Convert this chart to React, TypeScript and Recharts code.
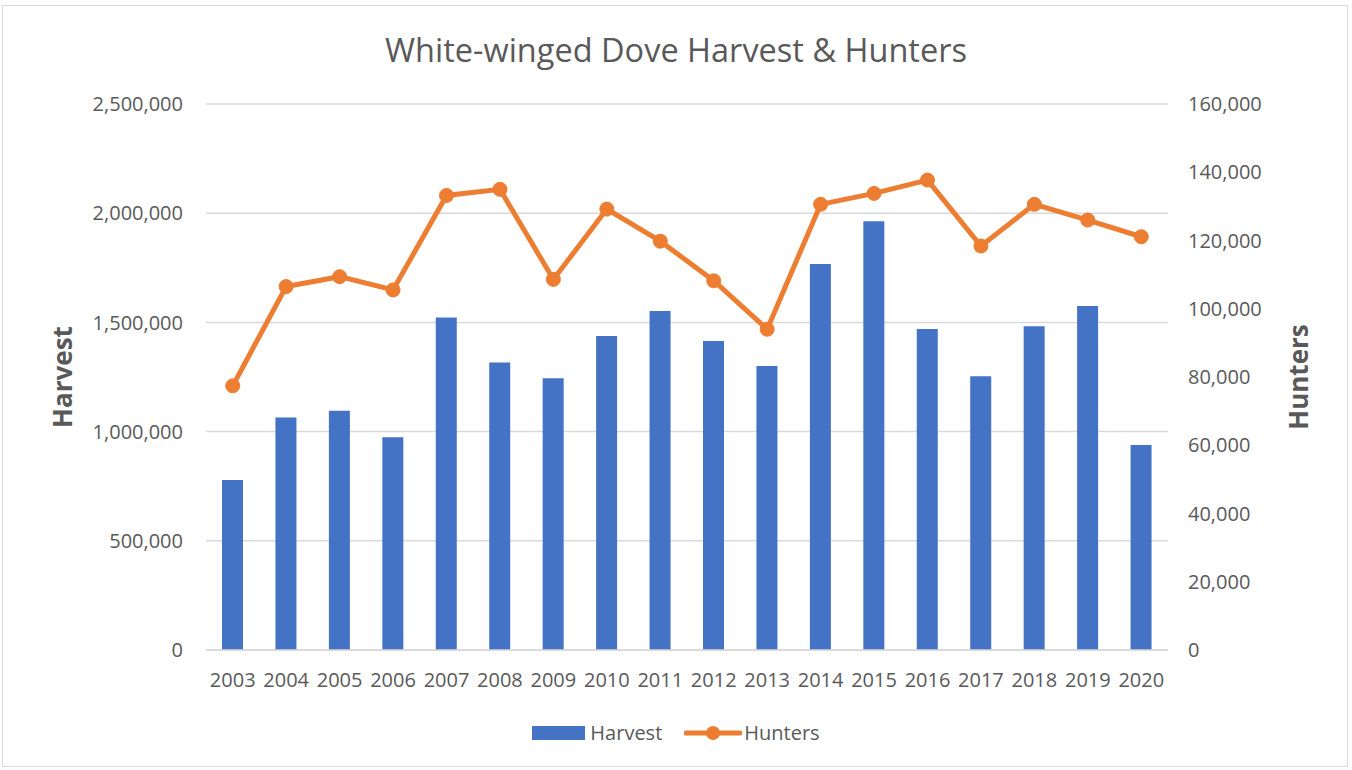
import React from 'react';
import { ComposedChart, Bar, Line, XAxis, YAxis, CartesianGrid, Legend } from 'recharts';

const years = ['2003','2004','2005','2006','2007','2008','2009','2010','2011','2012','2013','2014','2015','2016','2017','2018','2019','2020'];
const harvest = [778000,1065000,1096000,974000,1522000,1316000,1244000,1438000,1552000,1415000,1300000,1767000,1963000,1470000,1253000,1482000,1575000,939000];
const hunters = [77400,106500,109400,105500,133200,135000,108600,129200,119800,108200,94000,130600,133800,137700,118400,130600,126000,121100];
const leftTicks = [0,500000,1000000,1500000,2000000,2500000];
const rightTicks = [0,20000,40000,60000,80000,100000,120000,140000,160000];

const data = years.map((y, i) => ({ year: y, Harvest: harvest[i], Hunters: hunters[i] }));

const FONT = '"Open Sans", sans-serif';
const TXT = '#595959';
const fmt = (v: number) => v.toLocaleString('en-US');

const LegendContent = () => (
  <div style={{ display: 'flex', justifyContent: 'center', alignItems: 'center', fontFamily: FONT, fontSize: 20, color: TXT }}>
    <svg width={53} height={14} style={{ marginRight: 5 }}><rect x={0} y={0} width={53} height={14} fill="#4472C4" /></svg>
    <span style={{ marginRight: 22 }}>Harvest</span>
    <svg width={58} height={16} style={{ marginRight: 2 }}>
      <line x1={2} y1={8} x2={56} y2={8} stroke="#ED7D31" strokeWidth={5} strokeLinecap="round" />
      <circle cx={29} cy={8} r={7} fill="#ED7D31" />
    </svg>
    <span>Hunters</span>
  </div>
);

export default function App() {
  return (
    <div style={{ position: 'absolute', left: 0, top: 0, width: 1352, height: 770, background: '#fff', fontFamily: FONT }}>
      <div style={{ position: 'absolute', left: 2, top: 5, width: 1346, height: 762, border: '1px solid #d9d9d9', boxSizing: 'border-box' }} />
      <div style={{ position: 'absolute', left: 0, top: 27, width: 1352, textAlign: 'center', fontSize: 32.5, color: TXT }}>
        White-winged Dove Harvest &amp; Hunters
      </div>
      <div style={{ position: 'absolute', left: 62, top: 377, transform: 'translate(-50%, -50%) rotate(-90deg)', fontSize: 26, fontWeight: 700, color: TXT, whiteSpace: 'nowrap' }}>Harvest</div>
      <div style={{ position: 'absolute', left: 1298, top: 377, transform: 'translate(-50%, -50%) rotate(-90deg)', fontSize: 26, fontWeight: 700, color: TXT, whiteSpace: 'nowrap' }}>Hunters</div>
      <div style={{ position: 'absolute', left: 0, top: 0 }}>
        <ComposedChart width={1352} height={770} data={data} margin={{ top: 104, right: 0, left: 0, bottom: 40 }}>
          <CartesianGrid yAxisId="left" vertical={false} stroke="#d9d9d9" strokeWidth={1.5} />
          <XAxis dataKey="year" height={50} tickLine={false} axisLine={{ stroke: '#d9d9d9', strokeWidth: 1.5 }} tick={{ fill: TXT, fontSize: 20, fontFamily: FONT }} tickMargin={17} interval={0} />
          <YAxis yAxisId="left" width={206} domain={[0, 2500000]} ticks={leftTicks} tickFormatter={fmt} axisLine={false} tickLine={false} tickSize={0} tickMargin={23} tick={{ fill: TXT, fontSize: 20, fontFamily: FONT }} />
          <YAxis yAxisId="right" orientation="right" width={184} domain={[0, 160000]} ticks={rightTicks} tickFormatter={fmt} axisLine={false} tickLine={false} tickSize={0} tickMargin={20} tick={{ fill: TXT, fontSize: 20, fontFamily: FONT, textAnchor: 'start' }} />
          <Bar yAxisId="left" dataKey="Harvest" fill="#4472C4" barSize={21} isAnimationActive={false} />
          <Line yAxisId="right" dataKey="Hunters" stroke="#ED7D31" strokeWidth={5} dot={{ r: 7, fill: '#ED7D31', stroke: '#ED7D31', strokeWidth: 1 }} activeDot={false} isAnimationActive={false} />
          <Legend verticalAlign="bottom" height={30} content={LegendContent} wrapperStyle={{ bottom: 21 }} />
        </ComposedChart>
      </div>
    </div>
  );
}
